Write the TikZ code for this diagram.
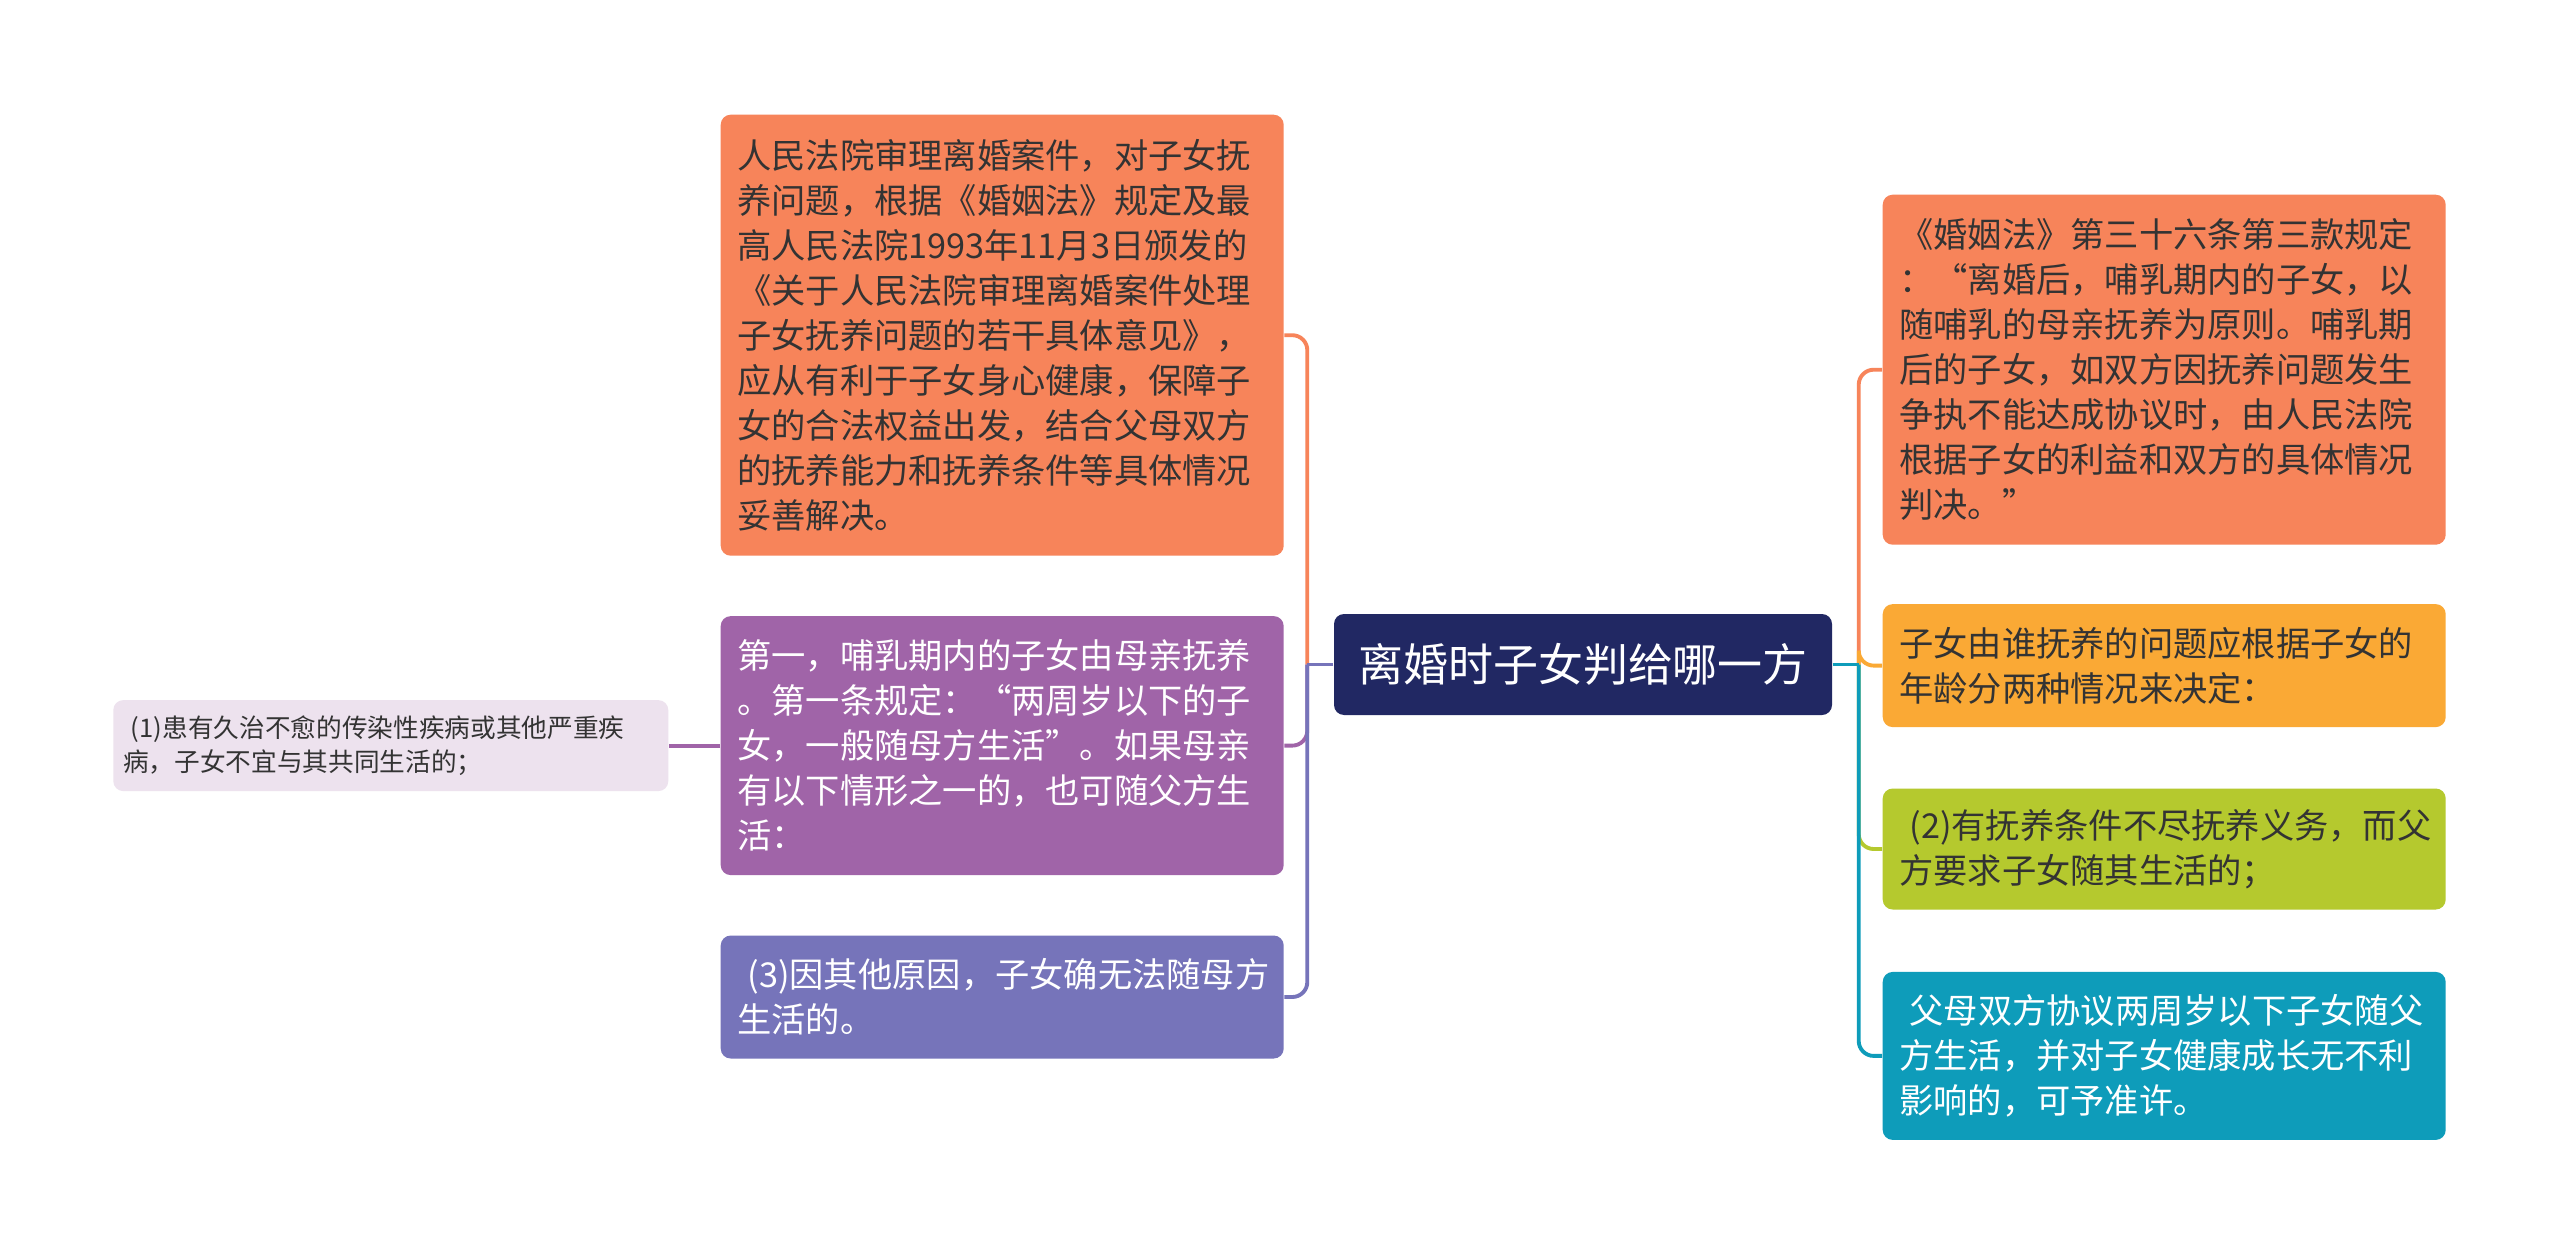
\documentclass[tikz,border=0pt]{standalone}
\usepackage{fontspec}
\setmainfont{Noto Sans CJK SC}
\usetikzlibrary{positioning}

\definecolor{coral}{HTML}{F7845A}
\definecolor{plum}{HTML}{A064A8}
\definecolor{slateviolet}{HTML}{7674BA}
\definecolor{lilac}{HTML}{EDE2EE}
\definecolor{navy}{HTML}{212863}
\definecolor{amber}{HTML}{FAA935}
\definecolor{lime}{HTML}{B5C92E}
\definecolor{teal}{HTML}{0E9CBA}
\definecolor{ink}{HTML}{333333}

\begin{document}
\begin{tikzpicture}[
    node distance=0.59cm and 0.51cm,
    topic/.style={
        rectangle, rounded corners=1mm,
        fill=navy, text=white,
        minimum width=4.98cm, minimum height=1.01cm,
        font=\fontsize{12.8}{15}\selectfont
    },
    leaf/.style={
        rectangle, rounded corners=1mm,
        inner xsep=0.165cm, inner ysep=0pt,
        text width=5.3cm, align=left,
        font=\fontsize{9.75}{12.8}\selectfont
    },
    small leaf/.style={
        leaf, inner xsep=0.1cm, text width=5.35cm,
        font=\fontsize{7.3}{9.6}\selectfont
    },
    link/.style={line width=1.1pt, rounded corners=0.15cm},
    stub/.style={line width=1.1pt}
]

\useasboundingbox[fill=white] (0,0) rectangle (25.6,-12.5);

% Nodes
\node[topic] (root) at (15.83,-6.645) {离婚时子女判给哪一方};

% left side
\node[leaf, fill=coral, text=ink, minimum height=4.41cm, anchor=north west] (law) at (7.2,-1.14)
    {人民法院审理离婚案件，对子女抚\\养问题，根据《婚姻法》规定及最\\高人民法院1993年11月3日颁发的\\《关于人民法院审理离婚案件处理\\子女抚养问题的若干具体意见》，\\应从有利于子女身心健康，保障子\\女的合法权益出发，结合父母双方\\的抚养能力和抚养条件等具体情况\\妥善解决。};
\node[leaf, fill=plum, text=white, minimum height=2.59cm, below=of law] (nursing)
    {第一，哺乳期内的子女由母亲抚养\\。第一条规定：“两周岁以下的子\\女，一般随母方生活”。如果母亲\\有以下情形之一的，也可随父方生\\活：};
\node[leaf, fill=slateviolet, text=white, minimum height=1.23cm, below=of nursing] (other)
    {\hspace*{0.3em}(3)因其他原因，子女确无法随母方\\生活的。};
\node[small leaf, fill=lilac, text=ink, minimum height=0.91cm, left=of nursing] (illness)
    {\hspace*{0.3em}(1)患有久治不愈的传染性疾病或其他严重疾\\病，子女不宜与其共同生活的；};

% right side
\node[leaf, fill=coral, text=ink, minimum height=3.5cm, anchor=north west] (article) at (18.82,-1.94)
    {《婚姻法》第三十六条第三款规定\\：“离婚后，哺乳期内的子女，以\\随哺乳的母亲抚养为原则。哺乳期\\后的子女，如双方因抚养问题发生\\争执不能达成协议时，由人民法院\\根据子女的利益和双方的具体情况\\判决。”};
\node[leaf, fill=amber, text=ink, minimum height=1.23cm, below=0.58cm of article] (age)
    {子女由谁抚养的问题应根据子女的\\年龄分两种情况来决定：};
\node[leaf, fill=lime, text=ink, minimum height=1.21cm, below=0.6cm of age] (duty)
    {\hspace*{0.3em}(2)有抚养条件不尽抚养义务，而父\\方要求子女随其生活的；};
\node[leaf, fill=teal, text=white, minimum height=1.68cm, below=0.61cm of duty] (agree)
    {\hspace*{0.3em}父母双方协议两周岁以下子女随父\\方生活，并对子女健康成长无不利\\影响的，可予准许。};

% Connectors
\coordinate (lj) at ([xshift=-0.26cm]root.west);
\coordinate (rj) at ([xshift=0.26cm]root.east);

\draw[link, draw=coral] (lj) |- (law.east);
\draw[link, draw=plum] (lj) |- (nursing.east);
\draw[link, draw=slateviolet] (lj) |- (other.east);
\draw[stub, draw=slateviolet] (root.west) -- (lj);
\draw[stub, draw=plum] (nursing.west) -- (illness.east);

\draw[link, draw=coral] (rj) |- (article.west);
\draw[link, draw=amber] (rj) |- (age.west);
\draw[link, draw=lime] (rj) |- (duty.west);
\draw[link, draw=teal] (rj) |- (agree.west);
\draw[stub, draw=teal] (root.east) -- (rj);

\end{tikzpicture}
\end{document}
